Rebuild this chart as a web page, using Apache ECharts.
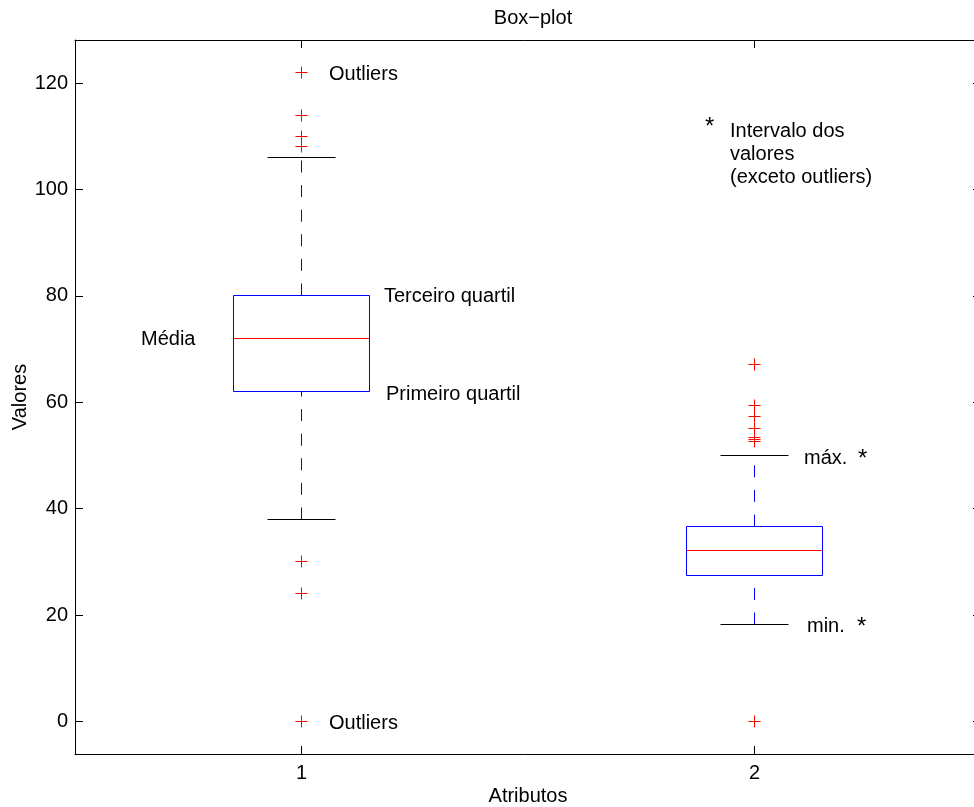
<!DOCTYPE html>
<html>
<head>
<meta charset="utf-8">
<title>Box-plot</title>
<script src="https://cdn.jsdelivr.net/npm/echarts@6/dist/echarts.min.js"></script>
<style>
  html, body { margin: 0; padding: 0; background: #ffffff; }
  #chart { width: 974px; height: 807px; }
</style>
</head>
<body>
<div id="chart"></div>
<script>
// Categories and box statistics for each attribute
const categories = ['1', '2'];
const lowerWhisker = [38, 18.2];
const firstQuartile = [62, 27.4];
const medianValues = [72, 32.1];
const thirdQuartile = [80, 36.6];
const upperWhisker = [106, 50];

// Outliers per attribute
const outliersAttr1 = [122, 114, 110, 108, 30, 24, 0];
const outliersAttr2 = [67.2, 59.4, 57.3, 55, 53.4, 53.0, 52.6, 0];

// Value axis ticks and extent
const yTickValues = [0, 20, 40, 60, 80, 100, 120];
const yExtent = [-6.1, 128.1];

const FONT = '"Liberation Sans", Arial, Helvetica, sans-serif';
const FS = 20;
const STAR_FS = 24;
const BLUE = '#0000ff';
const RED = '#ff0000';

const boxData = categories.map((c, i) => [
  i, lowerWhisker[i], firstQuartile[i], medianValues[i], thirdQuartile[i], upperWhisker[i]
]);
const outlierData = []
  .concat(outliersAttr1.map(v => [0, v]))
  .concat(outliersAttr2.map(v => [1, v]));

const crisp = v => Math.round(v - 0.5) + 0.5;

function renderBox(params, api) {
  const i = api.value(0);
  const band = api.size([1, 0])[0];
  const cx = crisp(api.coord([i, 0])[0]);
  const half = Math.round(band * 0.15);
  const capHalf = Math.round(band * 0.075);
  const py = k => crisp(api.coord([i, api.value(k)])[1]);
  const yLo = py(1), yQ1 = py(2), yMed = py(3), yQ3 = py(4), yHi = py(5);
  const dashed = { stroke: BLUE, lineWidth: 1, lineDash: [12, 12.6] };
  const solid = c => ({ stroke: c, lineWidth: 1 });
  return {
    type: 'group',
    children: [
      // whiskers, each drawn from its lower end upward
      { type: 'line', shape: { x1: cx, y1: yQ3, x2: cx, y2: yHi }, style: dashed },
      { type: 'line', shape: { x1: cx, y1: yLo, x2: cx, y2: yQ1 }, style: dashed },
      // whisker caps
      { type: 'line', shape: { x1: cx - capHalf, y1: yHi, x2: cx + capHalf, y2: yHi }, style: solid('#000000') },
      { type: 'line', shape: { x1: cx - capHalf, y1: yLo, x2: cx + capHalf, y2: yLo }, style: solid('#000000') },
      // box
      { type: 'rect', shape: { x: cx - half, y: yQ3, width: 2 * half, height: yQ1 - yQ3 },
        style: { fill: null, stroke: BLUE, lineWidth: 1 } },
      // median
      { type: 'line', shape: { x1: cx - half, y1: yMed, x2: cx + half, y2: yMed }, style: solid(RED) }
    ]
  };
}

function renderOutlier(params, api) {
  const p = api.coord([api.value(0), api.value(1)]);
  const x = crisp(p[0]), y = crisp(p[1]);
  const s = 6;
  return {
    type: 'group',
    children: [
      { type: 'line', shape: { x1: x - s, y1: y, x2: x + s, y2: y }, style: { stroke: RED, lineWidth: 1 } },
      { type: 'line', shape: { x1: x, y1: y - s, x2: x, y2: y + s }, style: { stroke: RED, lineWidth: 1 } }
    ]
  };
}

const chart = echarts.init(document.getElementById('chart'), null, { renderer: 'canvas' });

const axisLineStyle = { color: '#000000', width: 1 };
const textStyle = { fontFamily: FONT, fontSize: FS, color: '#000000' };

chart.setOption({
  animation: false,
  backgroundColor: '#ffffff',
  textStyle: { fontFamily: FONT },
  title: {
    text: 'Box\u2212plot',
    left: 528,
    top: 3,
    textAlign: 'center',
    textStyle: { fontFamily: FONT, fontSize: FS, fontWeight: 'normal', color: '#000000' }
  },
  grid: {
    left: 75, top: 40, width: 906, height: 714,
    containLabel: false,
    outerBoundsMode: 'none'
  },
  xAxis: [
    {
      type: 'category',
      data: categories,
      position: 'bottom',
      boundaryGap: true,
      name: 'Atributos',
      nameLocation: 'middle',
      nameGap: 32,
      nameMoveOverlap: false,
      nameTextStyle: textStyle,
      axisLine: { show: true, onZero: false, lineStyle: axisLineStyle },
      axisTick: { show: true, inside: true, length: 8, alignWithLabel: true, lineStyle: axisLineStyle },
      axisLabel: { margin: 9, ...textStyle },
      splitLine: { show: false }
    },
    {
      type: 'category',
      data: categories,
      position: 'top',
      boundaryGap: true,
      axisLine: { show: true, onZero: false, lineStyle: axisLineStyle },
      axisTick: { show: true, inside: true, length: 8, alignWithLabel: true, lineStyle: axisLineStyle },
      axisLabel: { show: false },
      splitLine: { show: false }
    }
  ],
  yAxis: [
    {
      type: 'value',
      min: yExtent[0],
      max: yExtent[1],
      position: 'left',
      name: 'Valores',
      nameLocation: 'middle',
      nameGap: 45,
      nameRotate: 90,
      nameMoveOverlap: false,
      nameTextStyle: textStyle,
      axisLine: { show: true, onZero: false, lineStyle: axisLineStyle },
      axisTick: { show: true, inside: true, length: 8, customValues: yTickValues, lineStyle: axisLineStyle },
      axisLabel: { margin: 7, customValues: yTickValues, ...textStyle },
      splitLine: { show: false }
    },
    {
      type: 'value',
      min: yExtent[0],
      max: yExtent[1],
      position: 'right',
      axisLine: { show: true, onZero: false, lineStyle: axisLineStyle },
      axisTick: { show: true, inside: true, length: 8, customValues: yTickValues, lineStyle: axisLineStyle },
      axisLabel: { show: false },
      splitLine: { show: false }
    }
  ],
  series: [
    {
      type: 'custom',
      name: 'box',
      xAxisIndex: 0,
      yAxisIndex: 0,
      renderItem: renderBox,
      encode: { x: 0, y: [1, 2, 3, 4, 5] },
      data: boxData,
      silent: true,
      z: 3
    },
    {
      type: 'custom',
      name: 'outliers',
      xAxisIndex: 0,
      yAxisIndex: 0,
      renderItem: renderOutlier,
      encode: { x: 0, y: 1 },
      data: outlierData,
      silent: true,
      z: 4
    }
  ]
});

// Text annotations anchored to data positions (category index, value) with pixel offsets
const notes = [
  { text: 'Outliers', cat: 0, value: outliersAttr1[0], dx: 27, dy: 1.5 },
  { text: 'Outliers', cat: 0, value: 0, dx: 27, dy: 1.5 },
  { text: 'Terceiro quartil', cat: 0, value: thirdQuartile[0], dx: 82, dy: 0.5 },
  { text: 'Primeiro quartil', cat: 0, value: firstQuartile[0], dx: 84, dy: 2 },
  { text: 'Média', cat: 0, value: medianValues[0], dx: -161, dy: 0.5 },
  { text: 'máx.', cat: 1, value: upperWhisker[1], dx: 49, dy: 2 },
  { text: '*', cat: 1, value: upperWhisker[1], dx: 103, dy: 3, size: STAR_FS },
  { text: 'min.', cat: 1, value: lowerWhisker[1], dx: 52, dy: 1.5 },
  { text: '*', cat: 1, value: lowerWhisker[1], dx: 102, dy: 2.5, size: STAR_FS }
];

const graphics = notes.map(n => {
  const p = chart.convertToPixel({ gridIndex: 0 }, [n.cat, n.value]);
  return {
    type: 'text',
    x: Math.round(p[0] + n.dx),
    y: Math.round(p[1] + n.dy),
    silent: true,
    style: {
      text: n.text,
      font: (n.size || FS) + 'px ' + FONT,
      fill: '#000000',
      align: 'left',
      verticalAlign: 'middle'
    }
  };
});

// Note explaining the asterisk marks
graphics.push({
  type: 'text',
  x: 705,
  y: 127,
  silent: true,
  style: { text: '*', font: STAR_FS + 'px ' + FONT, fill: '#000000', align: 'left', verticalAlign: 'middle' }
});
graphics.push({
  type: 'text',
  x: 730,
  y: 119.5,
  silent: true,
  style: {
    text: 'Intervalo dos\nvalores\n(exceto outliers)',
    font: FS + 'px ' + FONT,
    lineHeight: 23,
    fill: '#000000',
    align: 'left',
    verticalAlign: 'top'
  }
});

chart.setOption({ graphic: graphics });
</script>
</body>
</html>
